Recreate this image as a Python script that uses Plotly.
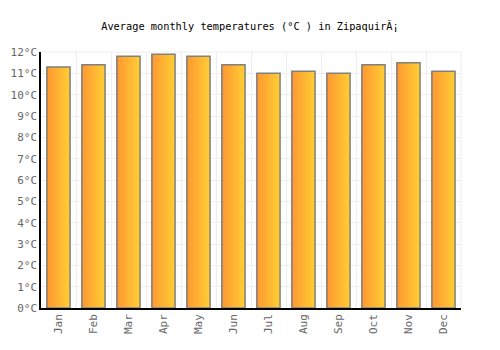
import plotly.graph_objects as go

months = ["Jan", "Feb", "Mar", "Apr", "May", "Jun", "Jul", "Aug", "Sep", "Oct", "Nov", "Dec"]
temps = [11.3, 11.4, 11.8, 11.9, 11.8, 11.4, 11.0, 11.1, 11.0, 11.4, 11.5, 11.1]
y_ticks = list(range(0, 13))
y_labels = [f"{v}°C" for v in y_ticks]

x = list(range(len(months)))
W = 0.66
N = 14
c0 = (255, 152, 50)
c1 = (255, 204, 51)

fig = go.Figure()
for i in range(N):
    t = i / (N - 1)
    col = tuple(round(a + (b - a) * t) for a, b in zip(c0, c1))
    fig.add_trace(go.Bar(
        x=x, y=temps,
        width=W / N * 1.15,
        offset=-W / 2 + i * W / N,
        marker=dict(color=f"rgb{col}", line=dict(width=0)),
        hoverinfo="skip", showlegend=False,
    ))
fig.add_trace(go.Bar(
    x=x, y=temps, width=W, offset=-W / 2,
    marker=dict(color="rgba(0,0,0,0)", line=dict(color="#808080", width=1.5)),
    showlegend=False,
))

fig.update_layout(
    barmode="overlay",
    width=500, height=350,
    margin=dict(l=41, r=39, t=52, b=42),
    paper_bgcolor="white", plot_bgcolor="white",
    title=dict(text="Average monthly temperatures (°C ) in ZipaquirÃ¡",
               x=0.5, xanchor="center", y=0.925, yanchor="middle",
               font=dict(family="DejaVu Sans Mono", size=10.3, color="#000")),
    font=dict(family="DejaVu Sans Mono", size=11, color="#666"),
)
fig.update_xaxes(
    range=[-0.5, 11.5], tickvals=x, ticktext=months, tickangle=-90,
    showgrid=False, showline=True, linecolor="#000", linewidth=1.5,
    ticks="", zeroline=False,
    minor=dict(tick0=0.5, dtick=1, showgrid=True, gridcolor="#eeeeee", gridwidth=1, ticks=""),
    tickfont=dict(family="DejaVu Sans Mono", size=11, color="#666"),
)
fig.update_yaxes(
    range=[0, 12], tickvals=y_ticks, ticktext=y_labels,
    showgrid=True, gridcolor="#eeeeee", gridwidth=1,
    showline=True, linecolor="#000", linewidth=1.5, zeroline=False, ticks="",
    tickfont=dict(family="DejaVu Sans Mono", size=11, color="#666"),
)
fig.add_shape(type="line", xref="paper", yref="paper", x0=1, x1=1, y0=0, y1=1,
              line=dict(color="#eeeeee", width=1), layer="below")
fig.add_shape(type="line", xref="paper", yref="paper", x0=0, x1=1, y0=1, y1=1,
              line=dict(color="#eeeeee", width=1), layer="below")

fig.write_html("out.html")
